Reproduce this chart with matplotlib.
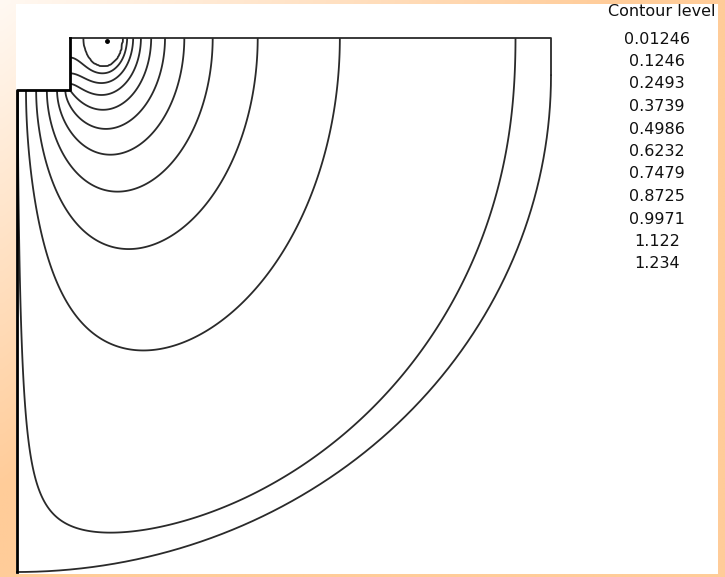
import numpy as np
import matplotlib
matplotlib.use("Agg")
import matplotlib.pyplot as plt
from matplotlib.patches import Rectangle

# contour levels listed in the legend column
levels = [0.01246, 0.1246, 0.2493, 0.3739, 0.4986, 0.6232, 0.7479, 0.8725, 0.9971, 1.122, 1.234]
level_labels = ["0.01246", "0.1246", "0.2493", "0.3739", "0.4986", "0.6232",
                "0.7479", "0.8725", "0.9971", "1.122", "1.234"]

# axisymmetric domain: quarter disk of unit radius plus a thin top strip, with
# a notch cut at the inner corner; the symmetry axis lies r_core left of the wall
y_top   = 0.075
x_notch = 0.1
y_step  = -0.03
r_core  = 0.1
# the depth axis is drawn stretched by this factor
z_stretch = 1.58
# small ring electrode sitting on the top surface
x_src = 0.162
r_src = 0.036
v_src = 1.2464
h     = 0.0025


def solve_potential():
    """
    Axisymmetric Laplace problem on a regular grid: electrode held at v_src,
    outer arc and inner wall grounded, everything else insulating. Jacobi-PCG.
    """
    nx = int(round(1 / h)) + 5
    ny = int(round((y_top + 1) / h)) + 5
    x = (np.arange(nx) - 2) * h
    y = y_top - (np.arange(ny) - 2) * h
    X, Y = np.meshgrid(x, y)
    eps = 1e-9

    in_notch  = (X < x_notch - eps) & (Y > y_step + eps)
    excluded  = (Y > y_top + eps) | in_notch
    in_shell  = np.where(Y > 0, X < 1 - eps, X**2 + Y**2 < 1 - eps)
    inside    = (X > eps) & in_shell & ~excluded
    electrode = inside & (((X - x_src) / r_src)**2
                          + ((Y - y_top) / (z_stretch * r_src))**2 <= 1)
    free      = inside & ~electrode
    active    = ~excluded
    fixed     = np.where(electrode, v_src, 0.0)

    # face weights: distance from the symmetry axis, depth faces scaled for the stretch
    R = X + r_core
    k2 = z_stretch**2
    shifts  = [(1, 0), (-1, 0), (1, 1), (-1, 1)]
    weights = [k2 * R, k2 * R, R - h / 2, R + h / 2]
    conn = [np.where(free & np.roll(active, s, a), w, 0.0)
            for (s, a), w in zip(shifts, weights)]
    diag = sum(conn)
    b = sum(c * np.roll(fixed, s, a) for c, (s, a) in zip(conn, shifts))

    def apply(u):
        out = diag * u
        for c, (s, a) in zip(conn, shifts):
            out -= c * np.roll(u, s, a)
        return out

    inv_d = np.where(free, 1.0 / np.where(diag > 0, diag, 1.0), 0.0)
    u = np.zeros_like(b)
    r = b.copy()
    z = inv_d * r
    p = z.copy()
    rz = np.sum(r * z)
    tol = 1e-9 * np.sqrt(np.sum(b * b))
    for _ in range(10000):
        Ap = apply(p)
        alpha = rz / np.sum(p * Ap)
        u += alpha * p
        r -= alpha * Ap
        if np.sqrt(np.sum(r * r)) < tol:
            break
        z = inv_d * r
        rz_new = np.sum(r * z)
        p = z + (rz_new / rz) * p
        rz = rz_new

    V = np.where(free, u, fixed)
    V[excluded] = np.nan
    return X, Y, V


def draw_background(fig):
    bg = fig.add_axes([0, 0, 1, 1])
    gy, gx = np.mgrid[0:1:120j, 0:1:150j]
    t = np.clip((gx + gy) / 0.85, 0, 1)[..., None]
    light  = np.array([1.0, 0.975, 0.95])
    orange = np.array([1.0, 0.80, 0.60])
    bg.imshow(light * (1 - t) + orange * t, extent=[0, 1, 0, 1], aspect="auto",
              origin="upper", interpolation="bilinear")
    bg.add_patch(Rectangle((16 / 725, 3 / 577), 702 / 725, 570 / 577,
                           transform=bg.transAxes, facecolor="white", edgecolor="none"))
    bg.set_xlim(0, 1)
    bg.set_ylim(0, 1)
    bg.axis("off")


def main():
    X, Y, V = solve_potential()

    fig = plt.figure(figsize=(7.25, 5.77), dpi=100)
    draw_background(fig)

    ax = fig.add_axes([17 / 725, 5 / 577, 534 / 725, 534 / 577])
    ax.set_xlim(0, 1)
    ax.set_ylim(-1, y_top)
    ax.axis("off")
    ax.patch.set_alpha(0)

    line_col = "#2a2a2a"
    ax.contour(X, Y, V, levels=levels, colors=line_col, linewidths=1.3)

    # domain outline
    th = np.linspace(0, -np.pi / 2, 300)
    ax.plot(np.cos(th), np.sin(th), color=line_col, lw=1.3, clip_on=False)
    ax.plot([x_notch, 1, 1], [y_top, y_top, 0], color=line_col, lw=1.3, clip_on=False)
    ax.plot([0, 0, x_notch, x_notch], [-1, y_step, y_step, y_top],
            color="black", lw=2.0, clip_on=False)
    ax.plot([0.168], [y_top - 0.006], "o", ms=2.5, color="black", clip_on=False)

    # legend column
    fig.text(715 / 725, 1 - 12 / 577, "Contour level", ha="right", va="center",
             fontsize=11.5, family="DejaVu Sans", color="#111111")
    for i, lab in enumerate(level_labels):
        fig.text(657 / 725, 1 - (39 + 22.5 * i) / 577, lab, ha="center", va="center",
                 fontsize=11.5, family="DejaVu Sans", color="#111111")

    fig.savefig("out.png", dpi=100)


if __name__ == "__main__":
    main()
